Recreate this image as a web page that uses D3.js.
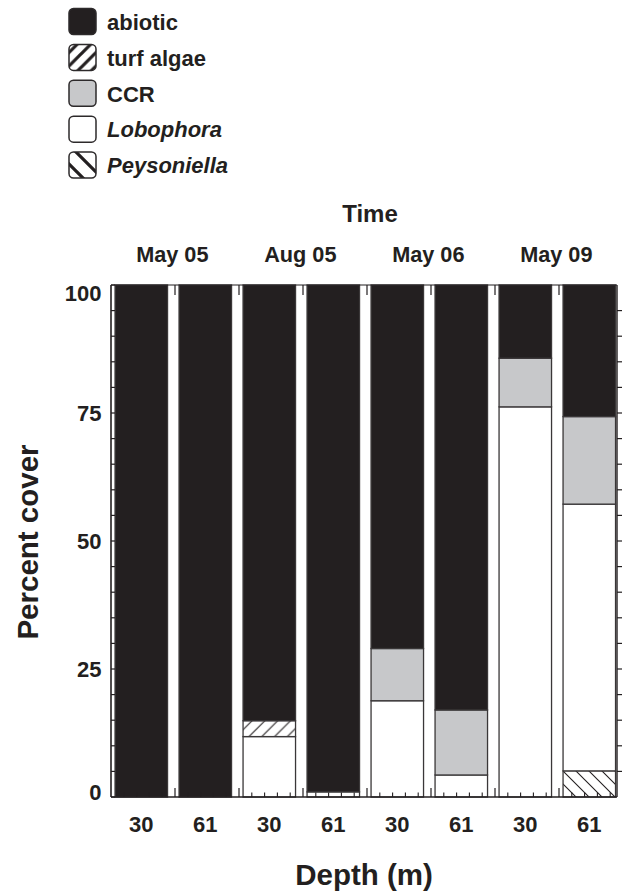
<!DOCTYPE html>
<html>
<head>
<meta charset="utf-8">
<script src="https://cdn.jsdelivr.net/npm/d3@7"></script>
<style>
  html, body { margin: 0; padding: 0; background: #fff; }
  svg { display: block; }
  text { font-family: "Liberation Sans", Arial, Helvetica, sans-serif; font-weight: bold; fill: #231f20; }
</style>
</head>
<body>
<script>
// ---------------- data ----------------
const times = ["May 05", "Aug 05", "May 06", "May 09"];
const depths = ["30", "61"];
const seriesNames = ["Peysoniella", "Lobophora", "turf algae", "CCR", "abiotic"]; // stack order, bottom -> top
const legendOrder = ["abiotic", "turf algae", "CCR", "Lobophora", "Peysoniella"];
const italicNames = ["Lobophora", "Peysoniella"];
// values per bar: May05-30, May05-61, Aug05-30, Aug05-61, May06-30, May06-61, May09-30, May09-61
const peysoniella = [0, 0, 0, 0, 0, 0, 0, 5.1];
const lobophora   = [0, 0, 11.8, 1.0, 18.8, 4.3, 76.2, 52.1];
const turfAlgae   = [0, 0, 3.1, 0, 0, 0, 0, 0];
const ccr         = [0, 0, 0, 0, 10.2, 12.7, 9.5, 17.1];
const abiotic     = [100, 100, 85.1, 99.0, 71.0, 83.0, 14.3, 25.7];
const yTickLabels = [0, 25, 50, 75, 100];
const xTitle = "Depth (m)";
const yTitle = "Percent cover";
const topTitle = "Time";

// ---------------- build table ----------------
const bars = [];
times.forEach((t, gi) => depths.forEach((d, di) => {
  const i = gi * 2 + di;
  bars.push({
    id: t + "|" + d, time: t, depth: d,
    "Peysoniella": peysoniella[i], "Lobophora": lobophora[i],
    "turf algae": turfAlgae[i], "CCR": ccr[i], "abiotic": abiotic[i]
  });
}));

// ---------------- layout ----------------
const W = 626, H = 892;
const pL = 111, pR = 617, pT = 285, pB = 797;
const svg = d3.select("body").append("svg").attr("width", W).attr("height", H);
const ink = "#231f20";

const y = d3.scaleLinear().domain([0, 100]).range([pB, pT]);
const xTick = d3.scaleLinear().domain([0, 8]).range([pL, pL + 512]);
const xBand = d3.scaleBand().domain(bars.map(b => b.id))
  .range([109.3, 621.3]).paddingInner(0.18).paddingOuter(0.09);

// ---------------- patterns ----------------
const defs = svg.append("defs");
function hatch(id, dir, s, sw) {
  const p = defs.append("pattern").attr("id", id).attr("patternUnits", "userSpaceOnUse")
    .attr("width", s).attr("height", s);
  p.append("rect").attr("width", s).attr("height", s).attr("fill", "#fff");
  const dpath = dir === "/"
    ? `M0,${s} L${s},0 M${-s/2},${s/2} L${s/2},${-s/2} M${s/2},${s*1.5} L${s*1.5},${s/2}`
    : `M0,0 L${s},${s} M${-s/2},${s/2} L${s/2},${s*1.5} M${s/2},${-s/2} L${s*1.5},${s/2}`;
  p.append("path").attr("d", dpath).attr("stroke", ink).attr("stroke-width", sw);
}
hatch("turf", "/", 12.8, 1.1);
hatch("peys", "\\", 13, 1.1);
hatch("turfL", "/", 13.5, 3.2);
hatch("peysL", "\\", 19, 3.2);

const fills = {
  "abiotic": ink, "turf algae": "url(#turf)", "CCR": "#c7c8ca",
  "Lobophora": "#ffffff", "Peysoniella": "url(#peys)"
};
const legendFills = {
  "abiotic": ink, "turf algae": "url(#turfL)", "CCR": "#c7c8ca",
  "Lobophora": "#ffffff", "Peysoniella": "url(#peysL)"
};

// ---------------- bars ----------------
const stack = d3.stack().keys(seriesNames)(bars);
const gBars = svg.append("g");
stack.forEach(layer => {
  gBars.selectAll(null).data(layer.filter(d => d[1] - d[0] > 0)).enter().append("rect")
    .attr("x", d => xBand(d.data.id))
    .attr("width", xBand.bandwidth())
    .attr("y", d => y(d[1]))
    .attr("height", d => y(d[0]) - y(d[1]))
    .attr("fill", fills[layer.key])
    .attr("stroke", "#3a3738")
    .attr("stroke-width", 1.3);
});

// ---------------- axes ----------------
const gAx = svg.append("g").attr("stroke", ink).attr("fill", "none");
gAx.append("line").attr("x1", pL).attr("x2", pL).attr("y1", pT).attr("y2", pB).attr("stroke-width", 1.6);
gAx.append("line").attr("x1", pR).attr("x2", pR).attr("y1", pT).attr("y2", pB).attr("stroke-width", 1.4);
gAx.append("line").attr("x1", pL).attr("x2", pR).attr("y1", pT).attr("y2", pT).attr("stroke-width", 1.2);
gAx.append("line").attr("x1", pL).attr("x2", pR).attr("y1", pB).attr("y2", pB).attr("stroke-width", 1.6);

const yMinor = d3.range(0, 100.01, 5);
gAx.selectAll(null).data(yMinor).enter().append("line")
  .attr("x1", pL).attr("x2", pL + 4).attr("y1", d => y(d)).attr("y2", d => y(d)).attr("stroke-width", 1.2);
gAx.selectAll(null).data(yMinor.filter(d => d > 0 && d < 100)).enter().append("line")
  .attr("x1", pR).attr("x2", pR + 5).attr("y1", d => y(d)).attr("y2", d => y(d)).attr("stroke-width", 1.2);

const xMajor = d3.range(1, 8);
const xMinor = d3.range(1, 40).map(k => k / 5).filter(v => Math.abs(v - Math.round(v)) > 1e-6);
gAx.selectAll(null).data(xMajor).enter().append("line")
  .attr("x1", d => xTick(d)).attr("x2", d => xTick(d)).attr("y1", pT).attr("y2", pT + 10).attr("stroke-width", 1.2);
gAx.selectAll(null).data(xMajor).enter().append("line")
  .attr("x1", d => xTick(d)).attr("x2", d => xTick(d)).attr("y1", pB).attr("y2", pB - 9).attr("stroke-width", 1.2);
gAx.selectAll(null).data(xMinor.filter(v => xTick(v) < pR - 2)).enter().append("line")
  .attr("x1", d => xTick(d)).attr("x2", d => xTick(d)).attr("y1", pB).attr("y2", pB - 4.5).attr("stroke-width", 1.1);

// y tick labels
svg.selectAll(null).data(yTickLabels).enter().append("text")
  .attr("x", pL - 9.5)
  .attr("y", d => y(d) + (d === 100 ? 8 : d === 0 ? -5 : 0))
  .attr("dy", "0.36em")
  .attr("text-anchor", "end")
  .style("font-size", "22px")
  .text(d => d);

// depth labels
svg.selectAll(null).data(bars).enter().append("text")
  .attr("x", d => xBand(d.id) + xBand.bandwidth() / 2)
  .attr("y", 831.5)
  .attr("text-anchor", "middle")
  .style("font-size", "22px")
  .text(d => d.depth);

// time group labels
svg.selectAll(null).data(times).enter().append("text")
  .attr("x", t => d3.mean(depths, d => xBand(t + "|" + d) + xBand.bandwidth() / 2) - 1)
  .attr("y", 261.5)
  .attr("text-anchor", "middle")
  .style("font-size", "21.7px")
  .text(t => t);

// titles
svg.append("text").attr("x", (pL + pR) / 2 + 6).attr("y", 221.5)
  .attr("text-anchor", "middle").style("font-size", "24px").text(topTitle);
svg.append("text").attr("x", (pL + pR) / 2).attr("y", 885)
  .attr("text-anchor", "middle").style("font-size", "29.5px").text(xTitle);
svg.append("text").attr("transform", `translate(38,${(pT + pB) / 2 + 1}) rotate(-90)`)
  .attr("text-anchor", "middle").style("font-size", "29.5px").text(yTitle);

// ---------------- legend ----------------
const lg = svg.append("g");
const legendY = d3.scalePoint().domain(legendOrder).range([21.5, 165]);
legendOrder.forEach(name => {
  const cy = legendY(name);
  lg.append("rect").attr("x", 69).attr("y", cy - 13).attr("width", 27).attr("height", 26)
    .attr("rx", 4.5).attr("ry", 4.5)
    .attr("fill", legendFills[name]).attr("stroke", "#2d2a2b").attr("stroke-width", 1.5);
  lg.append("text").attr("x", 107).attr("y", cy + 8.3)
    .style("font-size", "22px")
    .style("font-style", italicNames.includes(name) ? "italic" : "normal")
    .text(name);
});
</script>
</body>
</html>
